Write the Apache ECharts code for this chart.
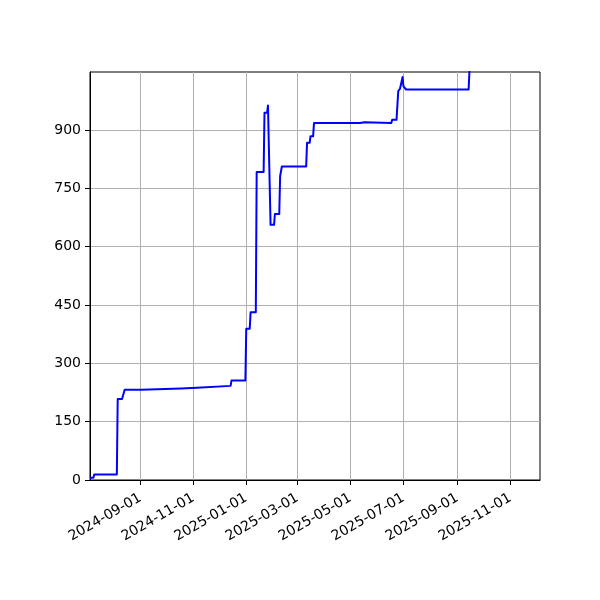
<!DOCTYPE html>
<html>
<head>
<meta charset="utf-8">
<script src="https://cdn.jsdelivr.net/npm/echarts@6/dist/echarts.min.js"></script>
<style>
html,body{margin:0;padding:0;background:#fff;}
#chart{width:600px;height:600px;}
</style>
</head>
<body>
<div id="chart"></div>
<script>
// Data
var dates = [
  '2024-07-05','2024-07-09','2024-07-10','2024-08-05','2024-08-06','2024-08-11','2024-08-14',
  '2024-09-02','2024-09-03','2024-10-18','2024-10-19','2024-11-05','2024-11-06','2024-12-14',
  '2024-12-15','2024-12-31','2025-01-01','2025-01-05','2025-01-06','2025-01-12','2025-01-13',
  '2025-01-21','2025-01-22','2025-01-25','2025-01-26','2025-01-28','2025-01-29','2025-02-02',
  '2025-02-03','2025-02-08','2025-02-09','2025-02-10','2025-02-11','2025-03-11','2025-03-12',
  '2025-03-15','2025-03-16','2025-03-19','2025-03-20','2025-05-12','2025-05-13','2025-05-17',
  '2025-05-18','2025-06-17','2025-06-18','2025-06-23','2025-06-25','2025-06-26','2025-06-27',
  '2025-06-29','2025-06-30','2025-07-01','2025-07-03','2025-07-04','2025-09-14','2025-09-16'
];
var values = [
  6,6,14,14,208,208,232,
  232,235,235,237,237,242,242,
  256,256,389,389,431,431,792,
  792,944,944,963,963,656,656,
  684,684,781,781,806,806,867,
  867,884,884,918,918,920,920,
  918,918,926,926,1000,1001,1006,
  1006,1036,1012,1010,1004,1004,1100
];
var xTickLabels = ['2024-09-01','2024-11-01','2025-01-01','2025-03-01','2025-05-01','2025-07-01','2025-09-01','2025-11-01'];
var yTicks = [0,150,300,450,600,750,900];

function toTime(s){
  var p = s.split('-');
  return Date.UTC(+p[0], +p[1]-1, +p[2]);
}
var xTickValues = xTickLabels.map(toTime);
var seriesData = dates.map(function(d,i){ return [toTime(d), values[i]]; });

var DAY = 86400000;
var xMin = toTime('2024-07-05') + 0.1*DAY;
var xMax = toTime('2025-12-05') + 0.2*DAY;

function pad(n){ return (n<10?'0':'')+n; }
function fmt(v){
  var d = new Date(v);
  return d.getUTCFullYear()+'-'+pad(d.getUTCMonth()+1)+'-'+pad(d.getUTCDate());
}

var chart = echarts.init(document.getElementById('chart'), null, {renderer:'canvas'});
chart.setOption({
  animation:false,
  backgroundColor:'#ffffff',
  textStyle:{fontFamily:'DejaVu Sans'},
  grid:{left:90,right:60,top:72,bottom:120,show:true,borderColor:'#000',borderWidth:1,backgroundColor:'transparent',containLabel:false},
  xAxis:{
    type:'value',
    min:xMin,max:xMax,
    axisLine:{show:true,onZero:false,lineStyle:{color:'#000',width:1}},
    axisTick:{show:true,length:5,inside:false,lineStyle:{color:'#000',width:1},customValues:xTickValues},
    axisLabel:{show:true,rotate:30,margin:17,color:'#000',fontSize:14,fontFamily:'DejaVu Sans',customValues:xTickValues,formatter:function(v){return fmt(v);},hideOverlap:false},
    splitLine:{show:true,lineStyle:{color:'#b0b0b0',width:1}},
    minorTick:{show:false},
    minorSplitLine:{show:false}
  },
  yAxis:{
    type:'value',
    min:0,max:1049,
    axisLine:{show:true,onZero:false,lineStyle:{color:'#000',width:1}},
    axisTick:{show:true,length:5,inside:false,lineStyle:{color:'#000',width:1},customValues:yTicks},
    axisLabel:{show:true,margin:9,color:'#000',fontSize:14,fontFamily:'DejaVu Sans',customValues:yTicks,hideOverlap:false},
    splitLine:{show:true,lineStyle:{color:'#b0b0b0',width:1}}
  },
  series:[{
    type:'line',
    data:seriesData,
    showSymbol:false,
    symbol:'none',
    clip:true,
    lineStyle:{color:'#0000ff',width:2,join:'round'},
    itemStyle:{color:'#0000ff'}
  }]
});
</script>
</body>
</html>
